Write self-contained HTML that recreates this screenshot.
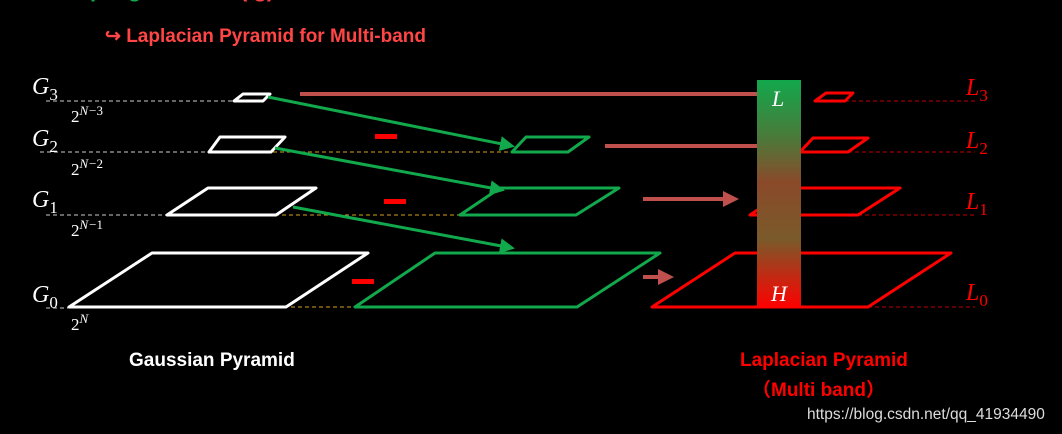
<!DOCTYPE html>
<html><head><meta charset="utf-8"><style>
html,body{margin:0;padding:0;background:#000;width:1062px;height:434px;overflow:hidden}
</style></head><body>
<svg width="1062" height="434" viewBox="0 0 1062 434" xmlns="http://www.w3.org/2000/svg" font-family="Liberation Sans, sans-serif">
<defs>
<linearGradient id="gr" x1="0" y1="0" x2="0" y2="1">
<stop offset="0" stop-color="#12a84c"/><stop offset="0.25" stop-color="#4a7a3a"/>
<stop offset="0.45" stop-color="#8a4a2a"/><stop offset="0.7" stop-color="#7a5a2a"/>
<stop offset="1" stop-color="#ff0000"/></linearGradient>
<marker id="ag" markerWidth="5" markerHeight="5" refX="4" refY="2.5" orient="auto" markerUnits="strokeWidth"><path d="M0,0 L5,2.5 L0,5z" fill="#12a84c"/></marker>
<marker id="ab" markerWidth="4" markerHeight="4" refX="3" refY="2" orient="auto" markerUnits="strokeWidth"><path d="M0,0 L4,2 L0,4z" fill="#c0504d"/></marker>
</defs>
<text x="90" y="-3" fill="#12a84c" font-size="22" font-weight="bold">p   e   g</text>
<text x="240" y="-3" fill="#ff4040" font-size="22" font-weight="bold">(                                g)</text>
<text x="105" y="42" fill="#ff4545" font-size="19" font-weight="bold">↪ Laplacian Pyramid for Multi-band</text>
<g stroke-dasharray="4,3" stroke-width="1">
<line x1="46" y1="101" x2="235" y2="101" stroke="#ccc"/>
<line x1="40" y1="152" x2="208" y2="152" stroke="#ccc"/>
<line x1="46" y1="215" x2="166" y2="215" stroke="#ccc"/>
<line x1="46" y1="308" x2="68" y2="308" stroke="#ccc"/>
<line x1="245" y1="152" x2="512" y2="152" stroke="#d8a020"/>
<line x1="240" y1="215" x2="460" y2="215" stroke="#d8a020"/>
<line x1="235" y1="307" x2="355" y2="307" stroke="#d8a020"/>
<line x1="845" y1="101" x2="975" y2="101" stroke="#c00000"/>
<line x1="848" y1="152" x2="975" y2="152" stroke="#c00000"/>
<line x1="858" y1="215" x2="975" y2="215" stroke="#c00000"/>
<line x1="868" y1="307" x2="975" y2="307" stroke="#c00000"/>
</g>
<g fill="none" stroke="#fff" stroke-width="3" stroke-linejoin="round">
<polygon points="234,101 263,101 270,94 243,94"/>
<polygon points="209,152 271,152 285,137 220,137"/>
<polygon points="167,215 276,215 316,188 208,188"/>
<polygon points="69,307 286,307 368,253 152,253"/>
</g>
<g fill="none" stroke="#12a84c" stroke-width="3" stroke-linejoin="round">
<polygon points="512,152 568,152 589,137 526,137"/>
<polygon points="460,215 576,215 619,188 500,188"/>
<polygon points="355,307 577,307 660,253 435,253"/>
<line x1="268" y1="97" x2="512" y2="146" marker-end="url(#ag)"/>
<line x1="275" y1="148" x2="502" y2="190" marker-end="url(#ag)"/>
<line x1="293" y1="207" x2="512" y2="248" marker-end="url(#ag)"/>
</g>
<g fill="#ff0000"><rect x="375" y="134" width="22" height="5"/><rect x="384" y="199" width="22" height="5"/><rect x="352" y="279" width="22" height="5"/></g>
<g stroke="#c0504d" stroke-width="4">
<line x1="300" y1="94" x2="760" y2="94"/>
<line x1="605" y1="146" x2="760" y2="146"/>
<line x1="643" y1="199" x2="735" y2="199" marker-end="url(#ab)"/>
<line x1="643" y1="277" x2="670" y2="277" marker-end="url(#ab)"/>
</g>
<g fill="none" stroke="#ff0000" stroke-width="3" stroke-linejoin="round">
<polygon points="815,101 845,101 853,93 826,93"/>
<polygon points="800,152 848,152 868,138 813,138"/>
<polygon points="750,215 858,215 900,188 790,188"/>
<polygon points="652,307 868,307 951,253 735,253"/>
</g>
<rect x="757" y="80" width="44" height="228" fill="url(#gr)"/>
<text x="772" y="106" fill="#fff" font-size="22" font-style="italic" font-family="Liberation Serif, serif">L</text>
<text x="771" y="301" fill="#fff" font-size="22" font-style="italic" font-family="Liberation Serif, serif">H</text>
<g fill="#fff" font-family="Liberation Serif, serif" font-style="italic" font-size="24">
<text x="32" y="94">G<tspan font-size="17" font-style="normal" dy="6">3</tspan></text>
<text x="32" y="146">G<tspan font-size="17" font-style="normal" dy="6">2</tspan></text>
<text x="32" y="207">G<tspan font-size="17" font-style="normal" dy="6">1</tspan></text>
<text x="32" y="302">G<tspan font-size="17" font-style="normal" dy="6">0</tspan></text>
</g>
<g fill="#fff" font-family="Liberation Serif, serif" font-size="17">
<text x="71" y="122">2<tspan font-size="13" font-style="italic" dy="-7">N</tspan><tspan font-size="13" dx="1">−3</tspan></text>
<text x="71" y="175">2<tspan font-size="13" font-style="italic" dy="-7">N</tspan><tspan font-size="13" dx="1">−2</tspan></text>
<text x="71" y="236">2<tspan font-size="13" font-style="italic" dy="-7">N</tspan><tspan font-size="13" dx="1">−1</tspan></text>
<text x="71" y="330">2<tspan font-size="13" font-style="italic" dy="-7">N</tspan></text>
</g>
<g fill="#ff0000" font-family="Liberation Serif, serif" font-style="italic" font-size="24">
<text x="966" y="95">L<tspan font-size="17" font-style="normal" dy="6">3</tspan></text>
<text x="966" y="148">L<tspan font-size="17" font-style="normal" dy="6">2</tspan></text>
<text x="966" y="209">L<tspan font-size="17" font-style="normal" dy="6">1</tspan></text>
<text x="966" y="300">L<tspan font-size="17" font-style="normal" dy="6">0</tspan></text>
</g>
<text x="129" y="366" fill="#fff" font-size="19" font-weight="bold">Gaussian Pyramid</text>
<text x="740" y="366" fill="#ff0000" font-size="19" font-weight="bold">Laplacian Pyramid</text>
<text x="752" y="396" fill="#ff0000" font-size="19" font-weight="bold" font-family="Liberation Sans, Noto Sans CJK SC, sans-serif">（Multi band）</text>
<text x="807" y="419" fill="#ddd" font-size="15.5">https://blog.csdn.net/qq_41934490</text>
</svg>
</body></html>
